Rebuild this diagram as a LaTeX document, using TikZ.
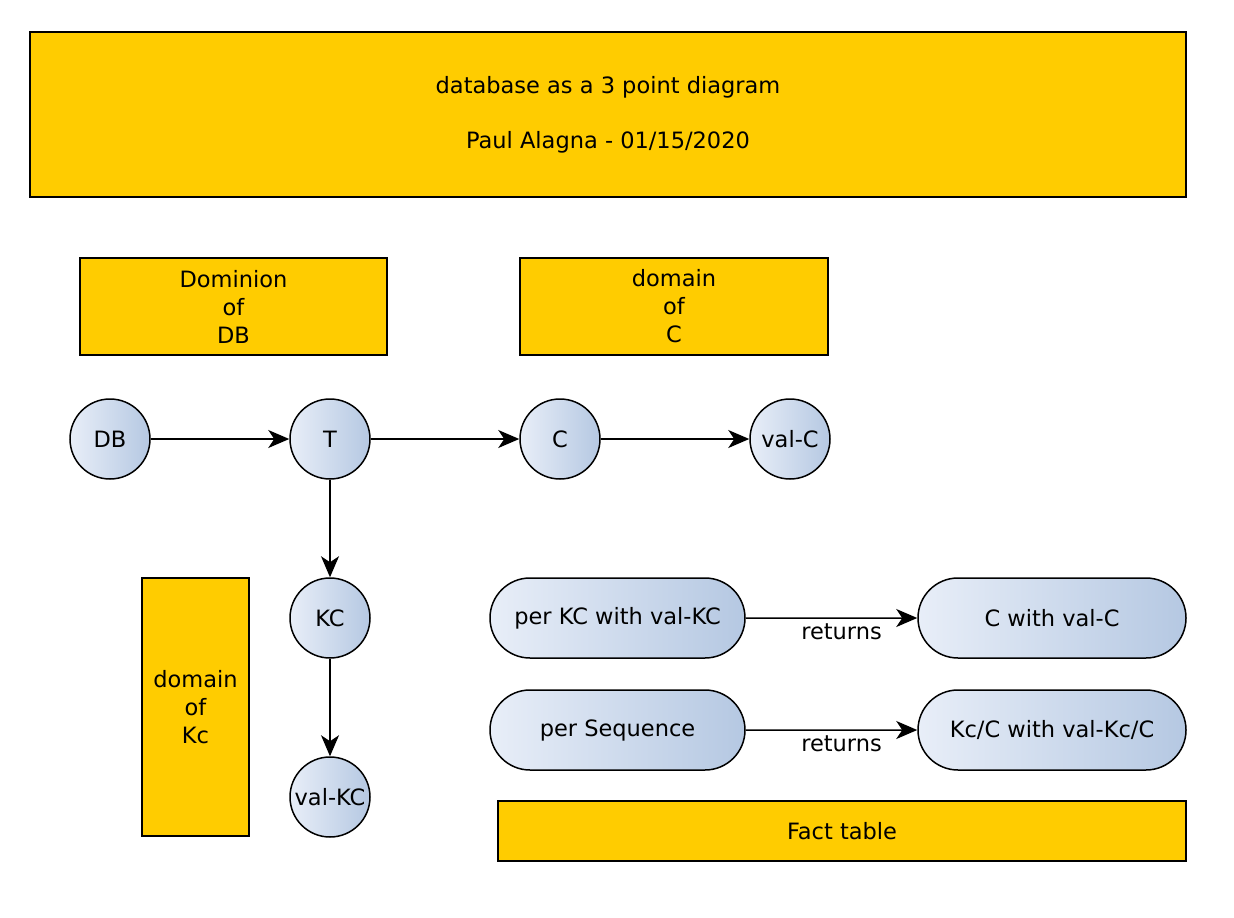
\documentclass[tikz,border=0pt]{standalone}
\usepackage{fontspec}
\setmainfont{DejaVu Sans}
\usetikzlibrary{arrows.meta}
\usetikzlibrary{shapes.misc}
\definecolor{gold}{HTML}{FFCC00}
\definecolor{paleblue}{HTML}{E8EEF8}
\definecolor{midblue}{HTML}{B5C8E2}
\tikzset{
  every node/.style={font=\fontsize{22.5}{28}\selectfont},
  goldbox/.style={draw, line width=1.5pt, fill=gold, align=center, inner sep=0pt},
  ent/.style={circle, draw, line width=1.5pt, left color=paleblue, right color=midblue, minimum size=80pt, inner sep=0pt},
  pill/.style={rounded rectangle, draw, line width=1.5pt, left color=paleblue, right color=midblue, minimum height=80pt, inner sep=0pt},
  link/.style={line width=1.5pt, -{Stealth[length=21pt, width=18pt, inset=6pt]}}
}
\begin{document}
\begin{tikzpicture}[x=1pt, y=-1pt]
  \useasboundingbox (0,0) rectangle (1234,918);
  \node[goldbox, minimum width=1156pt, minimum height=165pt] (title) at (608,114.5)
    {database as a 3 point diagram\\[27pt]Paul Alagna - 01/15/2020};
  \node[goldbox, minimum width=307pt, minimum height=97pt] (domDB) at (233.5,306.5) {Dominion\\of\\DB};
  \node[goldbox, minimum width=308pt, minimum height=97pt] (domC) at (674,306.5) {domain\\of\\C};
  \node[goldbox, minimum width=107pt, minimum height=258pt] (domKc) at (195.5,707) {domain\\of\\Kc};
  \node[goldbox, minimum width=688pt, minimum height=60pt] (fact) at (842,831) {Fact table};

  \node[ent] (DB) at (110,439) {DB};
  \node[ent] (T) at (330,439) {T};
  \node[ent] (C) at (560,439) {C};
  \node[ent] (valC) at (790,439) {val-C};
  \node[ent] (KC) at (330,618) {KC};
  \node[ent] (valKC) at (330,797) {val-KC};

  \node[pill, minimum width=255pt] (perKC) at (617.5,618) {per KC with val-KC};
  \node[pill, minimum width=268pt] (CvalC) at (1052,618) {C with val-C};
  \node[pill, minimum width=255pt] (perSeq) at (617.5,730) {per Sequence};
  \node[pill, minimum width=268pt] (KcC) at (1052,730) {Kc/C with val-Kc/C};

  \draw[link] (DB)--(T);
  \draw[link] (T)--(C);
  \draw[link] (C)--(valC);
  \draw[link] (T)--(KC);
  \draw[link] (KC)--(valKC);
  \draw[link] (perKC)--node[below=2pt, xshift=10pt]{returns}(CvalC);
  \draw[link] (perSeq)--node[below=2pt, xshift=10pt]{returns}(KcC);
\end{tikzpicture}
\end{document}
